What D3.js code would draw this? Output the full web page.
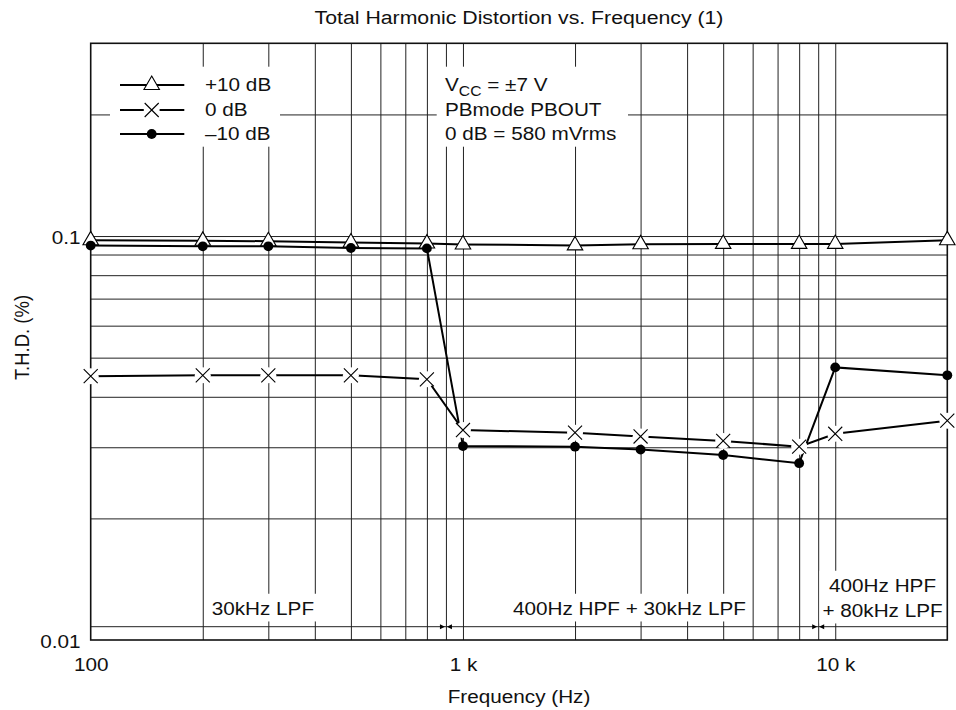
<!DOCTYPE html>
<html>
<head>
<meta charset="utf-8">
<script src="https://cdn.jsdelivr.net/npm/d3@7"></script>
<style>
  body { margin: 0; background: #fff; }
  svg text { font-family: "Liberation Sans", Arial, Helvetica, sans-serif; fill: #111; }
</style>
</head>
<body>
<div id="chart"></div>
<script>
// data
var freqs = [100, 200, 300, 500, 800, 1000, 2000, 3000, 5000, 8000, 10000, 20000];
var thdPlus10 = [0.0976, 0.0973, 0.0971, 0.0964, 0.0958, 0.0953, 0.0948, 0.0954, 0.0956, 0.0956, 0.0956, 0.0976];
var thdZero = [0.0450, 0.0452, 0.0452, 0.0452, 0.0442, 0.0331, 0.0326, 0.0319, 0.0311, 0.0301, 0.0324, 0.0349];
var thdMinus10 = [0.0947, 0.0943, 0.0943, 0.0934, 0.0932, 0.0302, 0.0301, 0.0296, 0.0287, 0.0274, 0.0473, 0.0452];
var seriesNames = ["+10 dB", "0 dB", "\u201310 dB"];

var gridFreqs = [200, 300, 400, 500, 600, 700, 800, 900, 1000, 2000, 3000, 4000, 5000, 6000, 7000, 8000, 9000, 10000];
var gridThd = [0.02, 0.03, 0.04, 0.05, 0.06, 0.07, 0.08, 0.09, 0.1, 0.2];
var xTicks = [100, 1000, 10000];
var xTickLabels = ["100", "1 k", "10 k"];
var yTicks = [0.01, 0.1];
var yTickLabels = ["0.01", "0.1"];

var filterBounds = [900, 9000];
var filterLabels = [["30kHz LPF"], ["400Hz HPF + 30kHz LPF"], ["400Hz HPF", "+ 80kHz LPF"]];
var conditions = ["PBmode PBOUT", "0 dB = 580 mVrms"];

/**
 * layout
 */
var W = 956, H = 710;
var margin = {top: 43.3, right: 8.7, bottom: 70, left: 90.7};
var plotW = W - margin.left - margin.right;
var plotH = 640 - margin.top;
var SX = 1.12, FS = 18.5;
var labelAt = [290, 2800, 13400]; // centre frequency of each filter label

var svg = d3.select("#chart").append("svg")
    .attr("width", W)
    .attr("height", H);

var g = svg.append("g")
    .attr("transform", "translate(" + margin.left + "," + margin.top + ")");

var x = d3.scaleLog().domain([100, 20000]).range([0, plotW]);
var y = d3.scaleLog().domain([0.01, 0.3]).range([plotH, 0]);

// text is a little wider than tall in the reference
function label(parent, px, py, s, anchor, size) {
    return parent.append("text")
        .attr("transform", "translate(" + px + "," + py + ") scale(" + SX + ",1)")
        .attr("text-anchor", anchor || "start")
        .attr("font-size", (size || FS) + "px")
        .text(s);
}

function boxBehind(node, padX, padTop, padBottom) {
    var b = node.node().getBBox();
    node.insert("rect", ":first-child")
        .attr("x", b.x - padX)
        .attr("y", b.y - padTop)
        .attr("width", b.width + 2 * padX)
        .attr("height", b.height + padTop + padBottom)
        .attr("fill", "#fff");
}

// grid
g.append("g")
    .attr("transform", "translate(0," + plotH + ")")
    .call(d3.axisBottom(x).tickValues(gridFreqs).tickSize(-plotH).tickFormat(""))
    .call(function (a) { a.select(".domain").remove(); })
    .selectAll("line").attr("stroke", "#222").attr("stroke-width", 1);

g.append("g")
    .call(d3.axisLeft(y).tickValues(gridThd).tickSize(-plotW).tickFormat(""))
    .call(function (a) { a.select(".domain").remove(); })
    .selectAll("line").attr("stroke", "#222").attr("stroke-width", 1);

// filter range bracket
var bracketY = plotH - 13.3;
g.append("line")
    .attr("x1", 0).attr("x2", plotW)
    .attr("y1", bracketY).attr("y2", bracketY)
    .attr("stroke", "#222").attr("stroke-width", 1);

filterBounds.forEach(function (b) {
    var xb = x(b);
    g.append("path")
        .attr("d", "M" + (xb - 1) + "," + bracketY + "L" + (xb - 6) + "," + (bracketY - 2.5) + "L" + (xb - 6) + "," + (bracketY + 2.5) + "Z")
        .attr("fill", "#000");
    g.append("path")
        .attr("d", "M" + (xb + 1) + "," + bracketY + "L" + (xb + 6) + "," + (bracketY - 2.5) + "L" + (xb + 6) + "," + (bracketY + 2.5) + "Z")
        .attr("fill", "#000");
});

filterLabels.forEach(function (lines, i) {
    var lg = g.append("g");
    var base = lines.length > 1 ? bracketY - 35 : bracketY - 12;
    lines.forEach(function (s, j) {
        label(lg, x(labelAt[i]), base + j * 25, s, "middle");
    });
    boxBehind(lg, 3, 4, 3);
});

// border
g.append("rect")
    .attr("width", plotW).attr("height", plotH)
    .attr("fill", "none").attr("stroke", "#111").attr("stroke-width", 1.6);

// legend + conditions
var rowsY = [85 - margin.top, 110 - margin.top, 134 - margin.top];
g.append("rect")
    .attr("x", 110 - margin.left).attr("y", 66.7 - margin.top)
    .attr("width", 170).attr("height", 80).attr("fill", "#fff");
g.append("rect")
    .attr("x", 436.7 - margin.left).attr("y", 66.7 - margin.top)
    .attr("width", 191.3).attr("height", 80).attr("fill", "#fff");

var annX = 445 - margin.left;
var vcc = label(g, annX, rowsY[0] + 6.3, "V");
vcc.append("tspan").attr("font-size", "14px").attr("dy", 5).text("CC");
vcc.append("tspan").attr("dy", -5).text(" = \u00b17 V");
conditions.forEach(function (s, i) {
    label(g, annX, rowsY[i + 1] + 6.3, s);
});

// series
var series = [
    {name: seriesNames[0], values: thdPlus10, mark: "tri"},
    {name: seriesNames[1], values: thdZero, mark: "x"},
    {name: seriesNames[2], values: thdMinus10, mark: "dot"}
];

var line = d3.line()
    .x(function (d) { return x(d.f); })
    .y(function (d) { return y(d.v); });

series.forEach(function (s) {
    s.points = freqs.map(function (f, i) { return {f: f, v: s.values[i]}; });
});

series.forEach(function (s) {
    g.append("path")
        .datum(s.points)
        .attr("d", line)
        .attr("fill", "none")
        .attr("stroke", "#000")
        .attr("stroke-width", 2);
});

var triSym = d3.symbol().type(d3.symbolTriangle).size(104);
var xSym = d3.symbol().type(d3.symbolTimes).size(130);
var dotSym = d3.symbol().type(d3.symbolCircle).size(76);

function drawMark(parent, mark, cx, cy) {
    var t = "translate(" + cx + "," + cy + ")";
    if (mark === "tri") {
        parent.append("path").attr("d", triSym()).attr("transform", t)
            .attr("fill", "#fff").attr("stroke", "#000").attr("stroke-width", 1.1);
    } else if (mark === "x") {
        parent.append("circle").attr("cx", cx).attr("cy", cy).attr("r", 8).attr("fill", "#fff");
        parent.append("path").attr("d", xSym()).attr("transform", t)
            .attr("fill", "none").attr("stroke", "#000").attr("stroke-width", 1.1);
    } else {
        parent.append("path").attr("d", dotSym()).attr("transform", t).attr("fill", "#000");
    }
}

series.forEach(function (s) {
    s.points.forEach(function (d) {
        drawMark(g, s.mark, x(d.f), y(d.v));
    });
});

// legend rows
var legX1 = 120 - margin.left, legX2 = 184.3 - margin.left, legM = 151.7 - margin.left;
series.forEach(function (s, i) {
    g.append("line")
        .attr("x1", legX1).attr("x2", legX2)
        .attr("y1", rowsY[i]).attr("y2", rowsY[i])
        .attr("stroke", "#000").attr("stroke-width", 2);
    drawMark(g, s.mark, legM, rowsY[i]);
    label(g, 205 - margin.left, rowsY[i] + 6.3, s.name);
});

// axes labels
var xAxis = g.append("g")
    .attr("transform", "translate(0," + plotH + ")")
    .call(d3.axisBottom(x).tickValues(xTicks).tickSize(0).tickPadding(18)
        .tickFormat(function (d, i) { return xTickLabels[i]; }));
xAxis.select(".domain").remove();
xAxis.attr("font-size", null).attr("font-family", null);
xAxis.selectAll("text")
    .attr("font-size", FS + "px")
    .attr("transform", "scale(" + SX + ",1)");

var yAxis = g.append("g")
    .call(d3.axisLeft(y).tickValues(yTicks).tickSize(0).tickPadding(9)
        .tickFormat(function (d, i) { return yTickLabels[i]; }));
yAxis.select(".domain").remove();
yAxis.attr("font-size", null).attr("font-family", null);
yAxis.selectAll("text")
    .attr("font-size", FS + "px")
    .attr("dy", "0.38em")
    .attr("transform", "scale(" + SX + ",1)");

label(svg, margin.left + plotW / 2, 23.7, "Total Harmonic Distortion vs. Frequency (1)", "middle", 19);
label(svg, margin.left + plotW / 2, 702.5, "Frequency (Hz)", "middle");

svg.append("text")
    .attr("transform", "translate(29,337.5) rotate(-90) scale(1," + SX + ")")
    .attr("text-anchor", "middle")
    .attr("font-size", FS + "px")
    .text("T.H.D. (%)");
</script>
</body>
</html>
